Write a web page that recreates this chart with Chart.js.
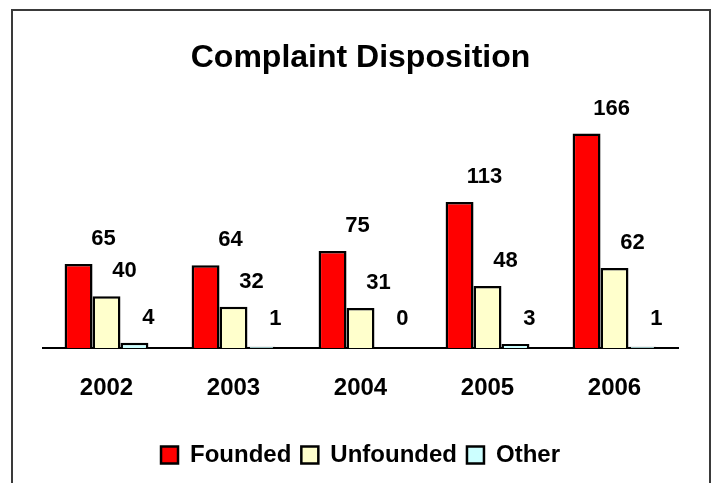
<!DOCTYPE html>
<html>
<head>
<meta charset="utf-8">
<title>Complaint Disposition</title>
<script src="https://cdn.jsdelivr.net/npm/chart.js@4/dist/chart.umd.min.js"></script>
<style>
    body { margin:0; background:#fff; }
    #marco { position:absolute; left:11px; top:9px; width:696px; height:520px; border:2px solid #3a3a3a; }
    #caja { position:absolute; left:0; top:0; width:715px; height:483px; }
</style>
</head>
<body>
<div id="marco"></div>
<div id="caja"><canvas id="Estadistica" width="715" height="483"></canvas></div>
<script>
const anios = ['2002', '2003', '2004', '2005', '2006'];
const founded = [65, 64, 75, 113, 166];
const unfounded = [40, 32, 31, 48, 62];
const other = [4, 1, 0, 3, 1];

const fuente = "Arial, 'Liberation Sans', sans-serif";

// numeros encima de cada barra, corridos un poco a la derecha
const etiquetas = {
    id: 'etiquetas',
    afterDatasetsDraw(chart) {
        const ctx = chart.ctx;
        const corrimiento = [25, 18, 14];
        const base = chart.scales.y.getPixelForValue(0);
        ctx.save();
        ctx.font = 'bold 22px ' + fuente;
        ctx.fillStyle = '#000';
        ctx.textAlign = 'center';
        ctx.textBaseline = 'middle';
        chart.data.datasets.forEach(function(ds, i) {
            const meta = chart.getDatasetMeta(i);
            meta.data.forEach(function(barra, j) {
                const y = Math.min(barra.y - 25, base - 29);
                ctx.fillText(String(ds.data[j]), barra.x + corrimiento[i], y);
            });
        });
        ctx.restore();
    }
};

function graficar(){
    const ctx = document.getElementById('Estadistica');

    new Chart(ctx, {
        type: 'bar',
        data: {
            labels: anios,
            datasets: [{
                label: 'Founded',
                data: founded,
                backgroundColor: '#FF0000',
                borderColor: '#000',
                borderWidth: 2.5,
            }, {
                label: 'Unfounded',
                data: unfounded,
                backgroundColor: '#FFFFCC',
                borderColor: '#000',
                borderWidth: 2.5,
            }, {
                label: 'Other',
                data: other,
                backgroundColor: '#CCFFFF',
                borderColor: '#000',
                borderWidth: 2.5,
            }]
        },
        options: {
            responsive: false,
            animation: false,
            layout: { padding: { left: 43, right: 37, top: 0, bottom: 6 } },
            datasets: {
                bar: { categoryPercentage: 0.66, barPercentage: 1 }
            },
            scales: {
                x: {
                    z: 1,
                    grid: { display: false, drawTicks: false },
                    border: { display: true, color: '#000', width: 2 },
                    ticks: {
                        color: '#000',
                        padding: 26,
                        font: { family: fuente, size: 24, weight: 'bold' }
                    },
                    afterFit(eje) { eje.height = 85; }
                },
                y: {
                    display: false,
                    min: 0,
                    max: 180
                }
            },
            plugins: {
                title: {
                    display: true,
                    text: 'Complaint Disposition',
                    color: '#000',
                    font: { family: fuente, size: 32, weight: 'bold' },
                    padding: { top: 39, bottom: 38 }
                },
                legend: {
                    position: 'bottom',
                    labels: {
                        color: '#000',
                        boxWidth: 17,
                        boxHeight: 17,
                        padding: 10,
                        font: { family: fuente, size: 24, weight: 'bold' }
                    }
                },
                tooltip: { enabled: false }
            }
        },
        plugins: [etiquetas]
    });
}

graficar();
</script>
</body>
</html>
